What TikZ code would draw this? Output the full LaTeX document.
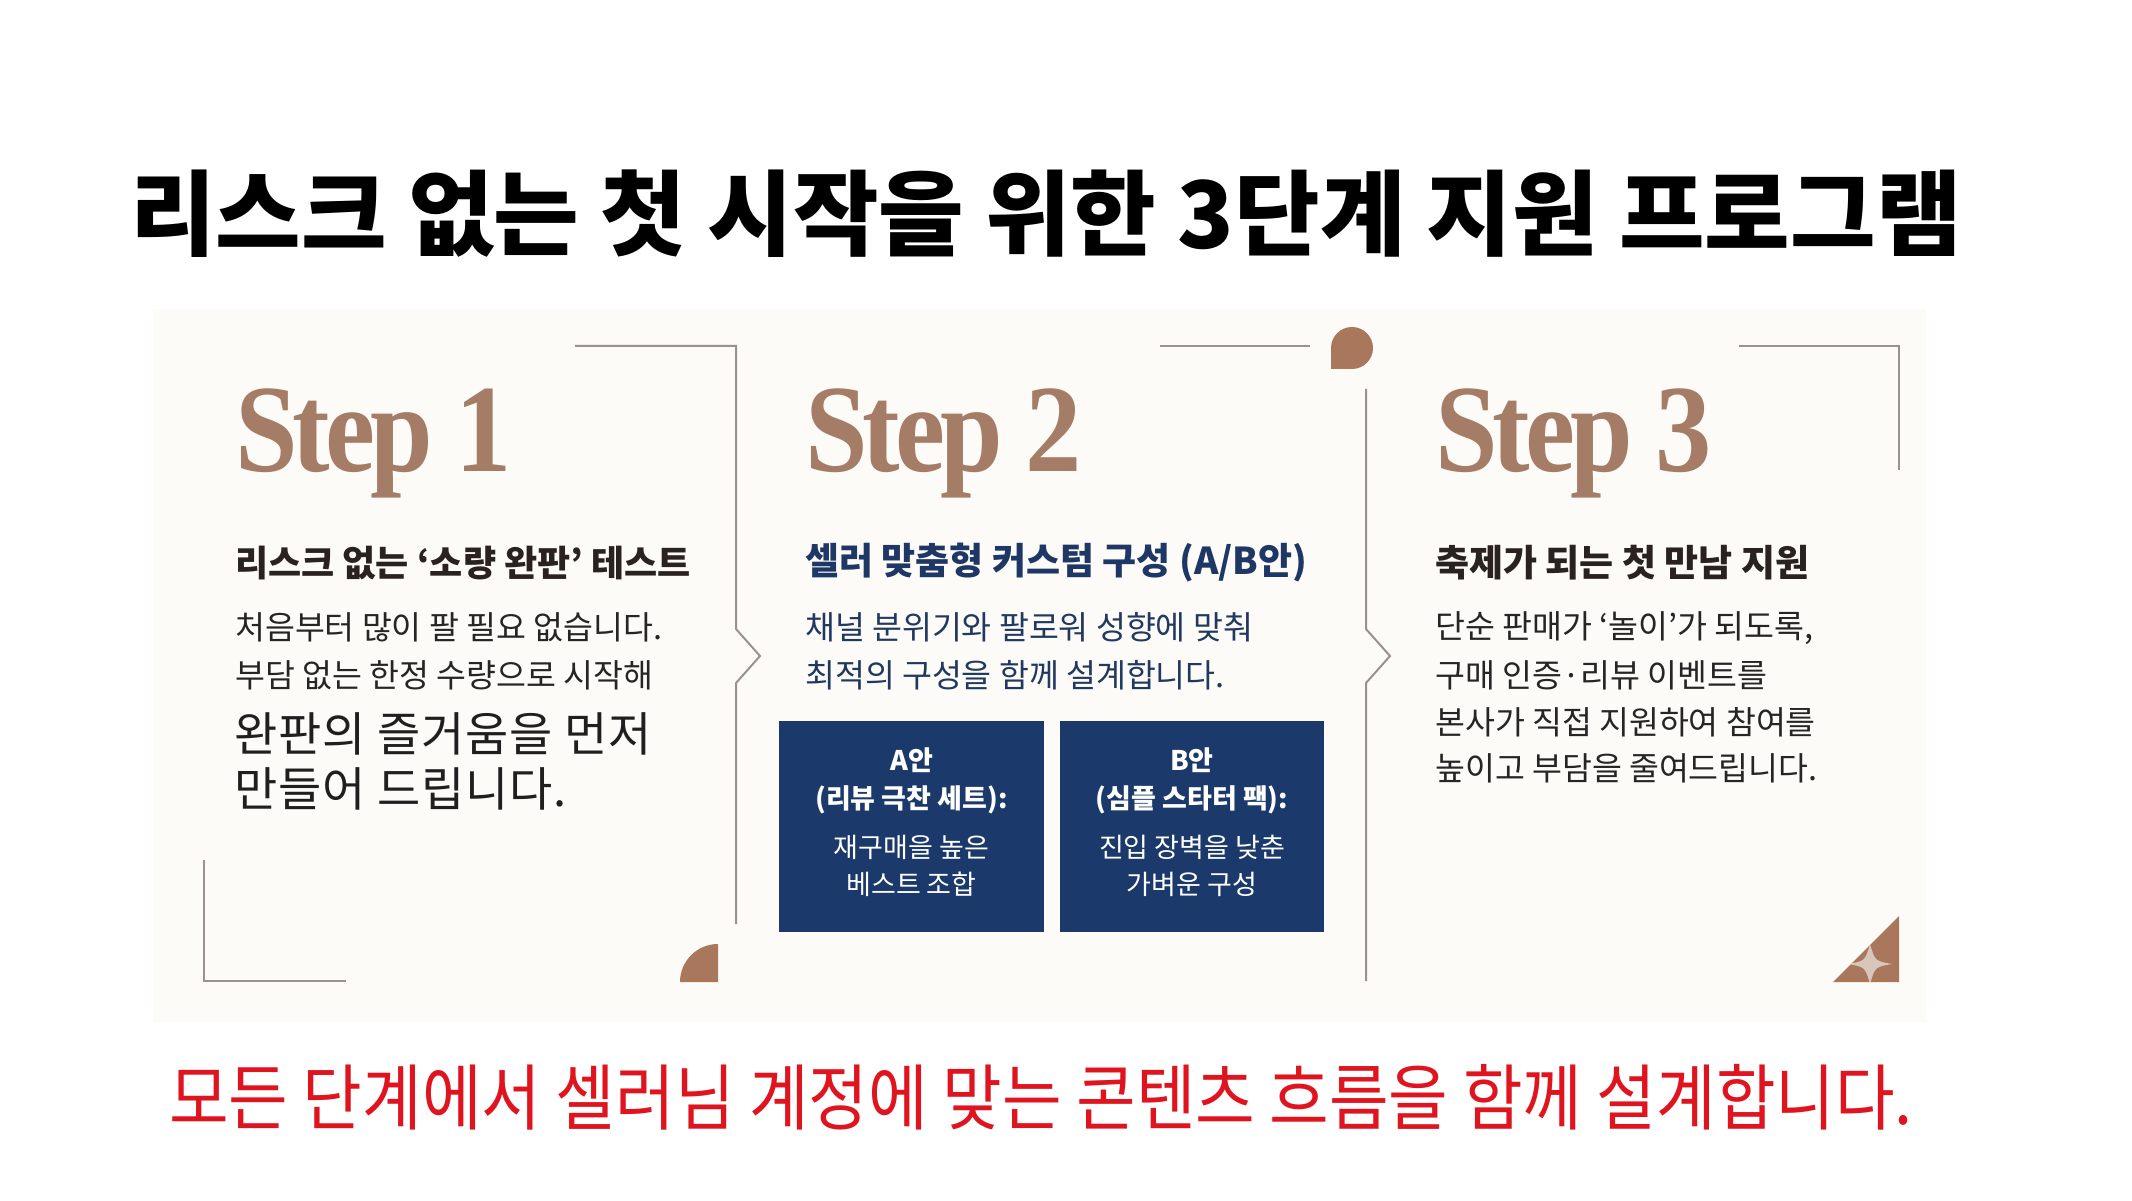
\documentclass[tikz,border=0pt]{standalone}
\usepackage{fontspec}
\setmainfont{Noto Sans CJK KR}
\newfontfamily\stepfont[FakeStretch=0.9,LetterSpace=-4]{Liberation Serif}
\newfontfamily\titlefont{Noto Sans CJK KR}
\newfontfamily\redfont[FakeStretch=0.9]{Noto Sans CJK KR}
\newfontfamily\softfont[LetterSpace=2]{Noto Sans CJK KR}
\definecolor{stepbrown}{HTML}{A57C66}
\definecolor{shapebrown}{HTML}{A8775C}
\definecolor{starcol}{HTML}{D8C6BB}
\definecolor{linegray}{HTML}{9C928D}
\definecolor{panelcol}{HTML}{FCFBF8}
\definecolor{darktext}{HTML}{2A2220}
\definecolor{bodytext}{HTML}{262424}
\definecolor{navy}{HTML}{1B3A6B}
\definecolor{navytext}{HTML}{1E3764}
\definecolor{navybody}{HTML}{22395F}
\definecolor{redtext}{HTML}{E0141E}
\begin{document}
\begin{tikzpicture}[x=1pt,y=1pt,
  frame/.style={draw=linegray, line width=2pt},
  deco/.style={fill=shapebrown},
  steptitle/.style={anchor=base west, inner sep=0pt, text=stepbrown, font=\stepfont\bfseries\fontsize{125}{125}\selectfont},
  heading/.style={anchor=west, inner sep=0pt, font=\bfseries\fontsize{37}{42}\selectfont},
  body/.style={anchor=west, inner sep=0pt, font=\fontsize{32.5}{38}\selectfont},
  soft/.style={anchor=west, inner sep=0pt, text=black!88, font=\softfont\fontsize{47}{52}\selectfont},
  plan/.style={fill=navy, inner sep=0pt, minimum width=265pt, minimum height=211pt},
  plantext/.style={inner sep=0pt, text=white, font=\fontsize{27}{32}\selectfont},
  planhead/.style={plantext, font=\bfseries\fontsize{27}{32}\selectfont},
]
\useasboundingbox (0,0) rectangle (2132,1200);
\fill[white] (0,0) rectangle (2132,1200);
\fill[panelcol] (153,178) rectangle (1926,891);

% title
\node[anchor=west, inner sep=0pt, font=\titlefont\bfseries\fontsize{93}{100}\selectfont] (title) at (130,986)
  {리스크 없는 첫 시작을 위한 3단계 지원 프로그램};

% step 1 frame
\draw[frame] (575,854) -- (736,854) -- (736,571) -- (760,544) -- (736,517) -- (736,276);
\draw[frame] (204,340) -- (204,219) -- (346,219);
\fill[deco] (718,218) -- (680,218) arc[start angle=180,end angle=90,radius=38] -- cycle;

% step 2 frame
\draw[frame] (1160,854) -- (1310,854);
\fill[deco] (1331,831) -- (1331,852) arc[start angle=180,end angle=-90,radius=21] -- cycle;
\draw[frame] (1366,811) -- (1366,571) -- (1390,544) -- (1366,517) -- (1366,219);

% step 3 frame
\draw[frame] (1739,854) -- (1899,854) -- (1899,730);
\fill[deco] (1899,218) -- (1833,218) -- (1899,284) -- cycle;
\begin{scope}
  \clip (1899,218) -- (1833,218) -- (1899,284) -- cycle;
  \fill[starcol] (1848,236) .. controls (1865,239) .. (1870,256)
     .. controls (1875,239) .. (1892,236)
     .. controls (1875,233) .. (1870,216)
     .. controls (1865,233) .. (1848,236) -- cycle;
\end{scope}

% step titles
\node[steptitle] (s1) at (235,728) {Step 1};
\node[steptitle] (s2) at (805,728) {Step 2};
\node[steptitle] (s3) at (1435,728) {Step 3};

% headings
\node[heading, text=darktext, font=\bfseries\fontsize{36}{42}\selectfont] (h1) at (235,637) {리스크 없는 ‘소량 완판’ 테스트};
\node[heading, text=navytext] (h2) at (805,637) {셀러 맞춤형 커스텀 구성 (A/B안)};
\node[heading, text=darktext] (h3) at (1435,637) {축제가 되는 첫 만남 지원};

% step 1 body
\node[body, text=bodytext] (b11) at (235,573) {처음부터 많이 팔 필요 없습니다.};
\node[body, text=bodytext] (b12) at (235,525) {부담 없는 한정 수량으로 시작해};
\node[soft] (b13) at (234,466) {완판의 즐거움을 먼저};
\node[soft] (b14) at (234,411) {만들어 드립니다.};

% step 2 body
\node[body, text=navybody] (b21) at (805,573) {채널 분위기와 팔로워 성향에 맞춰};
\node[body, text=navybody] (b22) at (805,525) {최적의 구성을 함께 설계합니다.};

% plan boxes
\node[plan] (boxA) at (911.5,373.5) {};
\node[plan, minimum width=264pt] (boxB) at (1192,373.5) {};
\node[planhead] (a1) at (911.5,440) {A안};
\node[planhead] (a2) at (911.5,400) {(리뷰 극찬 세트):};
\node[plantext] (a3) at (911.5,353) {재구매을 높은};
\node[plantext] (a4) at (911.5,316) {베스트 조합};
\node[planhead] (bb1) at (1192,440) {B안};
\node[planhead] (bb2) at (1192,400) {(심플 스타터 팩):};
\node[plantext] (bb3) at (1192,353) {진입 장벽을 낮춘};
\node[plantext] (bb4) at (1192,316) {가벼운 구성};

% step 3 body
\node[body, text=bodytext] (b31) at (1435,572) {단순 판매가 ‘놀이’가 되도록,};
\node[body, text=bodytext] (b32) at (1435,525) {구매 인증·리뷰 이벤트를};
\node[body, text=bodytext] (b33) at (1435,478) {본사가 직접 지원하여 참여를};
\node[body, text=bodytext] (b34) at (1435,432) {높이고 부담을 줄여드립니다.};

% bottom line
\node[anchor=west, inner sep=0pt, text=redtext, font=\redfont\fontsize{72}{76}\selectfont] (footer) at (169,103)
  {모든 단계에서 셀러님 계정에 맞는 콘텐츠 흐름을 함께 설계합니다.};
\end{tikzpicture}
\end{document}
